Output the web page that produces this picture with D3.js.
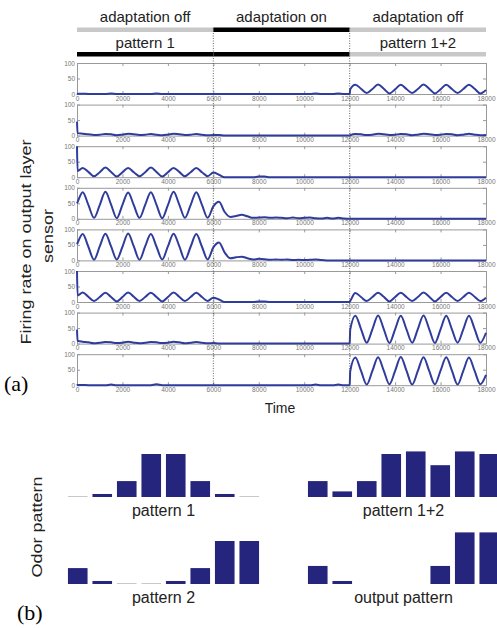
<!DOCTYPE html>
<html>
<head>
<meta charset="utf-8">
<script src="https://cdn.jsdelivr.net/npm/d3@7"></script>
<style>
  body { margin: 0; background: #fff; }
  svg { display: block; font-family: "Liberation Sans", Arial, sans-serif; }
  .tick text { fill: #777; font-size: 6.5px; }
  .domain, .tick line { stroke: #999; }
</style>
</head>
<body>
<script>
// ---- data ----------------------------------------------------------
var phaseBounds = [0, 6000, 12000, 18000];
var phaseLabels = ["adaptation off", "adaptation on", "adaptation off"];
var phaseColors = ["#c8c8c8", "#000", "#c8c8c8"];
var stimLabels = ["pattern 1", "", "pattern 1+2"];
var stimColors = ["#000", "#000", "#c8c8c8"];

// sample times of the recorded firing rate
var sampleTimes = [0, 25,
  250, 500, 750, 1000, 1250, 1500, 1750, 2000, 2250, 2500, 2750, 3000,
  3250, 3500, 3750, 4000, 4250, 4500, 4750, 5000, 5250, 5500, 5750, 6000,
  6250, 6500, 6750, 7000, 7250, 7500, 7750, 8000, 8250, 8500, 8750, 9000,
  9250, 9500, 9750, 10000, 10250, 10500, 10750, 11000, 11250, 11500, 11750, 12000,
  12025,
  12250, 12500, 12750, 13000, 13250, 13500, 13750, 14000, 14250, 14500, 14750, 15000,
  15250, 15500, 15750, 16000, 16250, 16500, 16750, 17000, 17250, 17500, 17750, 18000];

// firing rate of the 8 output layer sensors, top to bottom
var sensor1 = [2, 1,
  1,0,0,0, 0,2,0,0, 0,0,0,0, 0,2,0,0, 0,0,0,0, 0,0,0,0,
  0,0,0,0, 0,0,0,0, 0,0,0,0, 0,0,0,0, 0,2,0,0, 0,2,0,0,
  15,
  30,17,3,16, 31,17,2,15, 30,16,3,16, 31,17,2,15, 30,16,3,16, 30,17,2,13];
var sensor2 = [45, 8,
  6,4,2,3, 5,4,1,3, 6,4,2,3, 5,3,1,3, 6,4,2,3, 5,3,1,2,
  2,0,0,0, 0,0,0,0, 0,0,0,0, 0,0,0,0, 0,0,0,0, 0,0,0,0,
  1,
  5,4,2,3, 6,4,2,3, 5,4,1,3, 6,4,2,3, 5,4,1,3, 6,3,1,2];
var sensor3 = [100, 20,
  30,17,3,16, 31,17,2,16, 30,16,3,16, 31,17,2,16, 30,17,3,16, 30,16,3,15,
  8,0,0,0, 0,0,0,2, 2,0,0,0, 0,0,0,0, 0,0,0,0, 0,0,0,0,
  0,
  0,0,0,0, 0,0,0,0, 0,0,0,0, 0,0,0,0, 0,0,0,0, 0,0,0,0];
var sensor4 = [50, 54,
  86,45,3,44, 87,46,2,45, 85,44,3,45, 86,45,2,44, 87,46,3,44, 86,45,3,40,
  55,22,6,9, 13,8,3,4, 5,3,4,3, 2,4,2,3, 4,2,1,3, 1,3,1,0,
  0,
  0,0,0,0, 0,0,0,0, 0,0,0,0, 0,0,0,0, 0,0,0,0, 0,0,0,0];
var sensor5 = [52, 56,
  85,44,2,45, 86,45,3,44, 87,45,2,45, 85,44,3,45, 86,46,2,44, 85,44,3,42,
  58,25,7,10, 12,7,3,5, 4,2,3,2, 3,1,2,1, 2,3,1,0, 0,0,0,0,
  0,
  0,0,0,0, 0,0,0,0, 0,0,0,0, 0,0,0,0, 0,0,0,0, 0,0,0,0];
var sensor6 = [100, 21,
  31,17,3,16, 30,16,2,16, 31,17,3,16, 30,16,2,16, 31,17,3,16, 30,16,3,14,
  8,0,0,0, 0,0,0,2, 2,0,0,0, 0,0,0,0, 0,0,0,0, 0,0,0,0,
  3,
  29,16,3,16, 30,17,2,16, 30,16,3,16, 31,17,2,16, 30,16,3,16, 30,17,3,14];
var sensor7 = [45, 9,
  6,4,1,3, 5,4,2,3, 6,3,1,3, 5,4,2,3, 6,4,1,3, 5,3,1,2,
  0,0,0,0, 0,0,0,0, 0,0,0,0, 0,0,0,0, 0,0,0,0, 0,0,0,0,
  45,
  90,47,3,46, 91,47,2,46, 90,46,3,47, 91,47,2,46, 90,46,3,46, 90,47,3,35];
var sensor8 = [3, 1,
  1,0,0,0, 0,2,0,0, 0,0,0,0, 0,3,0,0, 0,0,0,0, 0,0,0,0,
  0,0,0,0, 0,0,0,0, 0,0,0,0, 0,0,0,0, 0,2,0,0, 0,2,0,0,
  45,
  89,46,2,46, 90,47,3,46, 91,47,2,46, 90,46,3,47, 90,47,2,46, 89,46,3,33];
var sensors = [sensor1, sensor2, sensor3, sensor4, sensor5, sensor6, sensor7, sensor8];

var xTicks = [0, 2000, 4000, 6000, 8000, 10000, 12000, 14000, 16000, 18000];
var yTicks = [0, 50, 100];

// odor patterns (relative concentration per receptor)
var pattern1 = [0, 0.07, 0.37, 1, 1, 0.37, 0.07, 0];
var pattern2 = [0.37, 0.07, 0, 0, 0.07, 0.37, 1, 1];
var pattern12 = [0.37, 0.13, 0.37, 1, 1.06, 0.74, 1.06, 1];
var outputPattern = [0.42, 0.07, 0, 0, 0, 0.42, 1.2, 1.2];

// ---- drawing -------------------------------------------------------
var width = 497, height = 628;
var svg = d3.select("body").append("svg")
  .attr("width", width)
  .attr("height", height);

var x = d3.scaleLinear().domain([0, 18000]).range([77, 486]);
var rowStep = 41.6, rowH = 31, firstTop = 63;
var lineColor = "#2f3c9c";

// header bars and labels
phaseLabels.forEach(function(d, i) {
  var x0 = x(phaseBounds[i]), x1 = x(phaseBounds[i + 1]);
  svg.append("text").attr("x", (x0 + x1) / 2).attr("y", 22)
    .attr("text-anchor", "middle").attr("font-size", 15).attr("fill", "#222").text(d);
  svg.append("rect").attr("x", x0).attr("y", 27.5).attr("width", x1 - x0).attr("height", 4.5)
    .attr("fill", phaseColors[i]);
  svg.append("text").attr("x", (x0 + x1) / 2).attr("y", 47.5)
    .attr("text-anchor", "middle").attr("font-size", 15).attr("fill", "#222").text(stimLabels[i]);
  svg.append("rect").attr("x", x0).attr("y", 52).attr("width", x1 - x0).attr("height", 4.5)
    .attr("fill", stimColors[i]);
});

var line = d3.line().curve(d3.curveMonotoneX);

sensors.forEach(function(vals, i) {
  var top = firstTop + i * rowStep;
  var y = d3.scaleLinear().domain([0, 100]).range([top + rowH, top]);
  var g = svg.append("g");

  g.append("g").attr("transform", "translate(0," + (top + rowH) + ")")
    .call(d3.axisBottom(x).tickValues(xTicks).tickFormat(d3.format("d"))
      .tickSizeInner(-3).tickSizeOuter(0).tickPadding(2));
  g.append("g").attr("transform", "translate(0," + top + ")")
    .call(d3.axisTop(x).tickValues(xTicks).tickFormat("").tickSizeInner(-3).tickSizeOuter(0));
  g.append("g").attr("transform", "translate(" + x(0) + ",0)")
    .call(d3.axisLeft(y).tickValues(yTicks).tickSizeInner(-3).tickSizeOuter(0).tickPadding(2));
  g.append("g").attr("transform", "translate(" + x(18000) + ",0)")
    .call(d3.axisRight(y).tickValues(yTicks).tickFormat("").tickSizeInner(-3).tickSizeOuter(0));

  g.append("path")
    .attr("d", line(vals.map(function(v, k) { return [x(sampleTimes[k]), y(v)]; })))
    .attr("fill", "none")
    .attr("stroke", lineColor)
    .attr("stroke-width", 2);
});

// dotted phase boundaries
[6000, 12000].forEach(function(t) {
  svg.append("line").attr("x1", x(t)).attr("x2", x(t)).attr("y1", 28).attr("y2", firstTop + 7 * rowStep + rowH)
    .attr("stroke", "#444").attr("stroke-width", 0.8).attr("stroke-dasharray", "1,1.5");
});

// axis titles (the source figure is stretched a little vertically)
svg.append("text").attr("transform", "translate(31,242) rotate(-90) scale(1.2,1)")
  .attr("text-anchor", "middle").attr("font-size", 15).attr("fill", "#222")
  .text("Firing rate on output layer");
svg.append("text").attr("transform", "translate(53,236) rotate(-90) scale(1.2,1)")
  .attr("text-anchor", "middle").attr("font-size", 15).attr("fill", "#222")
  .text("sensor");
svg.append("text").attr("x", 280).attr("y", 413)
  .attr("text-anchor", "middle").attr("font-size", 14).attr("fill", "#222").text("Time");
svg.append("text").attr("x", 4).attr("y", 391)
  .attr("font-family", "Liberation Serif, serif").attr("font-size", 22).text("(a)");

// ---- panel (b): odor patterns ----
var barSets = [
  { vals: pattern1, label: "pattern 1", x0: 65.5, base: 497, zeroLine: true },
  { vals: pattern12, label: "pattern 1+2", x0: 305.5, base: 497, zeroLine: false },
  { vals: pattern2, label: "pattern 2", x0: 65.5, base: 584, zeroLine: true },
  { vals: outputPattern, label: "output pattern", x0: 305.5, base: 584, zeroLine: false }
];
var barH = d3.scaleLinear().domain([0, 1]).range([0, 43]);

barSets.forEach(function(s) {
  var xb = d3.scaleBand().domain(d3.range(s.vals.length))
    .range([s.x0, s.x0 + 196]).paddingInner(0.2).paddingOuter(0.1);
  svg.append("g").selectAll("rect")
    .data(s.vals)
    .enter()
    .append("rect")
    .attr("x", function(d, k) { return xb(k); })
    .attr("width", xb.bandwidth())
    .attr("y", function(d) { return d > 0 ? s.base - barH(d) : s.base - 1; })
    .attr("height", function(d) { return d > 0 ? barH(d) : (s.zeroLine ? 1 : 0); })
    .attr("fill", function(d) { return d > 0 ? "#26257d" : "#c8c8c8"; });
  svg.append("text").attr("x", s.x0 + 98).attr("y", s.base + 19)
    .attr("text-anchor", "middle").attr("font-size", 16).attr("fill", "#222").text(s.label);
});

svg.append("text").attr("transform", "translate(42,527) rotate(-90) scale(1.2,1)")
  .attr("text-anchor", "middle").attr("font-size", 15).attr("fill", "#222").text("Odor pattern");
svg.append("text").attr("x", 17).attr("y", 620)
  .attr("font-family", "Liberation Serif, serif").attr("font-size", 22).text("(b)");
</script>
</body>
</html>
